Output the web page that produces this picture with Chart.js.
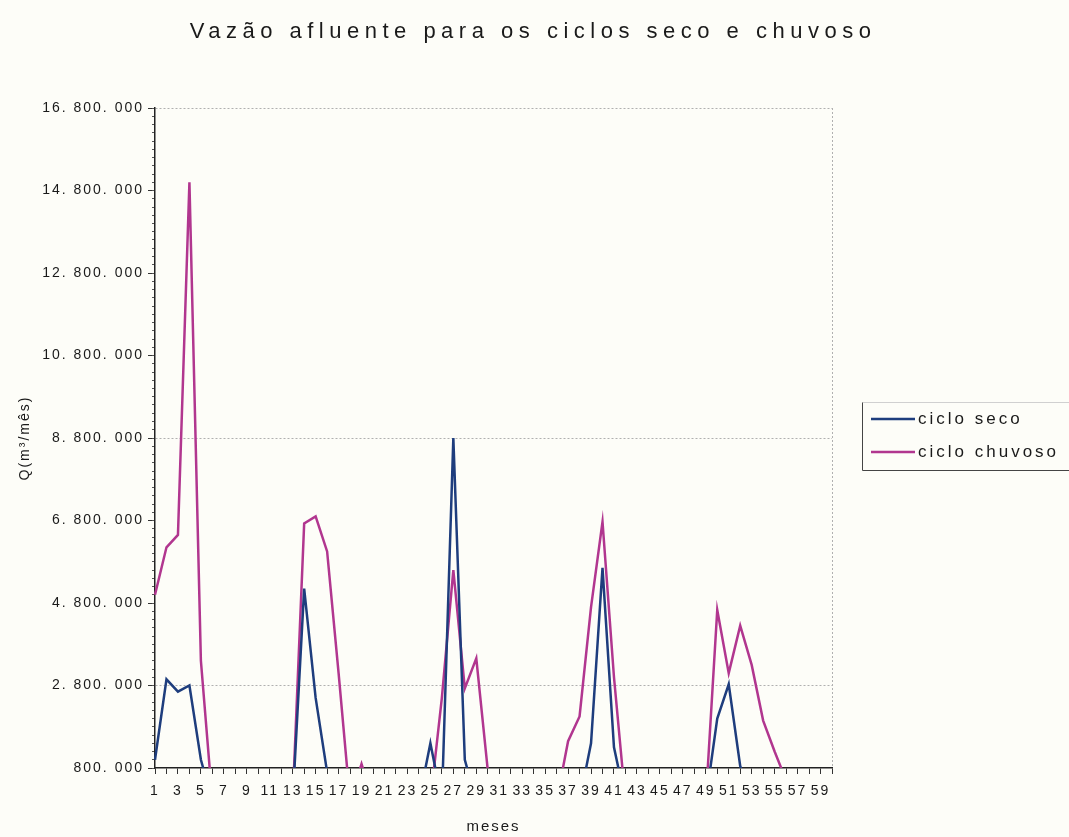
<!DOCTYPE html>
<html>
<head>
<meta charset="utf-8">
<script src="https://cdn.jsdelivr.net/npm/chart.js@4.4.1/dist/chart.umd.min.js"></script>
<style>
html, body { margin: 0; padding: 0; background: #fdfdf8; }
#wrap { width: 1069px; height: 837px; }
</style>
</head>
<body>
<div id="wrap"><canvas id="vazao" width="1069" height="837"></canvas></div>
<script>
var titulo = 'Vazão afluente para os ciclos seco e chuvoso';
var meses = [1, 2, 3, 4, 5, 6, 7, 8, 9, 10, 11, 12, 13, 14, 15, 16, 17, 18, 19, 20,
	21, 22, 23, 24, 25, 26, 27, 28, 29, 30, 31, 32, 33, 34, 35, 36, 37, 38, 39, 40,
	41, 42, 43, 44, 45, 46, 47, 48, 49, 50, 51, 52, 53, 54, 55, 56, 57, 58, 59, 60];

// m3/mes (0 = mes sem vazao, fica abaixo do eixo)
var cicloSeco = [1000000, 2950000, 2650000, 2800000, 1000000, 0, 0, 0, 0, 0,
	0, 0, 0, 5150000, 2500000, 700000, 0, 0, 0, 0,
	0, 0, 0, 0, 1400000, 0, 8800000, 1000000, 0, 0,
	0, 0, 0, 0, 0, 0, 0, 0, 1400000, 5650000,
	1300000, 0, 0, 0, 0, 0, 0, 0, 0, 2000000,
	2830000, 850000, 0, 0, 0, 0, 0, 0, 0, 0];
var cicloChuvoso = [5000000, 6150000, 6450000, 15000000, 3400000, 0, 0, 0, 0, 0,
	0, 0, 0, 6730000, 6900000, 6050000, 3100000, 0, 900000, 0,
	0, 0, 0, 0, 0, 2500000, 5600000, 2730000, 3460000, 750000,
	0, 0, 0, 0, 0, 0, 1450000, 2050000, 4700000, 6770000,
	3000000, 0, 0, 0, 0, 0, 0, 0, 0, 4630000,
	3100000, 4250000, 3300000, 1950000, 1200000, 500000, 0, 0, 0, 0];

var nomesSeries = ['ciclo seco', 'ciclo chuvoso'];
var coresSeries = ['#1e3d7d', '#b1368f'];
var yMin = 800000, yMax = 16800000, yPasso = 2000000;
var linhasGrade = [2800000, 8800000, 16800000];

var fonte = '"Liberation Sans", Arial, sans-serif';

function formataQ(v) {
	return String(v).replace(/\B(?=(\d{3})+(?!\d))/g, '. ');
}

var espacamento = {
	id: 'espacamento',
	beforeDraw: function (chart) {
		chart.ctx.letterSpacing = '2px';
	}
};

var tituloELegenda = {
	id: 'tituloELegenda',
	afterDraw: function (chart) {
		var ctx = chart.ctx;
		ctx.save();
		ctx.fillStyle = '#1a1a1a';
		ctx.font = '22px ' + fonte;
		ctx.letterSpacing = '5.5px';
		ctx.textAlign = 'center';
		ctx.textBaseline = 'middle';
		ctx.fillText(titulo, 533, 32);

		// caixa da legenda (sai pela borda direita)
		ctx.lineWidth = 1;
		ctx.strokeStyle = '#d0d0d0';
		ctx.beginPath(); ctx.moveTo(862.5, 402.5); ctx.lineTo(1069, 402.5); ctx.stroke();
		ctx.strokeStyle = '#444';
		ctx.beginPath(); ctx.moveTo(862.5, 402.5); ctx.lineTo(862.5, 470.5); ctx.lineTo(1069, 470.5); ctx.stroke();

		ctx.font = '17px ' + fonte;
		ctx.letterSpacing = '3px';
		ctx.textAlign = 'left';
		chart.data.datasets.forEach(function (ds, i) {
			var y = 419 + i * 33;
			ctx.strokeStyle = ds.borderColor;
			ctx.lineWidth = 2.5;
			ctx.beginPath(); ctx.moveTo(871, y); ctx.lineTo(915, y); ctx.stroke();
			ctx.fillStyle = '#1a1a1a';
			ctx.fillText(ds.label, 918, y);
		});
		ctx.restore();
	}
};

var grafico = new Chart(document.getElementById('vazao').getContext('2d'), {
	type: 'line',
	data: {
		labels: meses,
		datasets: [{
			label: nomesSeries[0],
			data: cicloSeco,
			borderColor: coresSeries[0],
			backgroundColor: coresSeries[0],
			borderWidth: 2.5,
			pointRadius: 0,
			tension: 0
		}, {
			label: nomesSeries[1],
			data: cicloChuvoso,
			borderColor: coresSeries[1],
			backgroundColor: coresSeries[1],
			borderWidth: 2.5,
			pointRadius: 0,
			tension: 0
		}]
	},
	options: {
		responsive: false,
		animation: false,
		layout: { padding: { top: 108, right: 237, bottom: 0, left: 0 } },
		plugins: {
			legend: { display: false },
			title: { display: false },
			tooltip: { enabled: false }
		},
		scales: {
			x: {
				type: 'category',
				offset: false,
				grid: {
					drawOnChartArea: true,
					color: function (c) { return c.index === meses.length - 1 ? '#b0b0b0' : 'rgba(0,0,0,0)'; },
					tickColor: '#333',
					tickLength: 6
				},
				border: { display: true, color: '#222', width: 1.5, dash: [2, 2] },
				ticks: {
					autoSkip: false,
					maxRotation: 0,
					minRotation: 0,
					padding: 9,
					color: '#1a1a1a',
					font: { family: fonte, size: 14 },
					callback: function (v, i) { return i % 2 === 0 ? meses[i] : ''; }
				},
				title: {
					display: true,
					text: 'meses',
					color: '#1a1a1a',
					font: { family: fonte, size: 15 },
					padding: { top: 0, bottom: 1 }
				},
				afterFit: function (scale) { scale.height = 69; }
			},
			y: {
				type: 'linear',
				position: 'left',
				weight: 1,
				min: yMin,
				max: yMax,
				grid: {
					color: function (c) { return c.tick && linhasGrade.indexOf(c.tick.value) >= 0 ? '#b0b0b0' : 'rgba(0,0,0,0)'; },
					tickColor: '#333',
					tickLength: 7
				},
				border: { display: true, color: '#222', width: 1.5, dash: [2, 2] },
				ticks: {
					stepSize: yPasso,
					padding: 4,
					color: '#1a1a1a',
					font: { family: fonte, size: 14 },
					callback: function (v) { return formataQ(v); }
				},
				title: {
					display: true,
					text: 'Q(m³/mês)',
					color: '#1a1a1a',
					font: { family: fonte, size: 14 },
					padding: { top: 17, bottom: 0 }
				},
				afterFit: function (scale) { scale.width = 155; }
			},
			yMenor: {
				type: 'linear',
				position: 'left',
				weight: 0,
				min: yMin,
				max: yMax,
				grid: { drawOnChartArea: false, tickColor: '#555', tickLength: 3 },
				border: { display: false },
				ticks: { stepSize: 200000, maxTicksLimit: 100, display: false },
				afterFit: function (scale) { scale.width = 0; }
			}
		}
	},
	plugins: [espacamento, tituloELegenda]
});
</script>
</body>
</html>
